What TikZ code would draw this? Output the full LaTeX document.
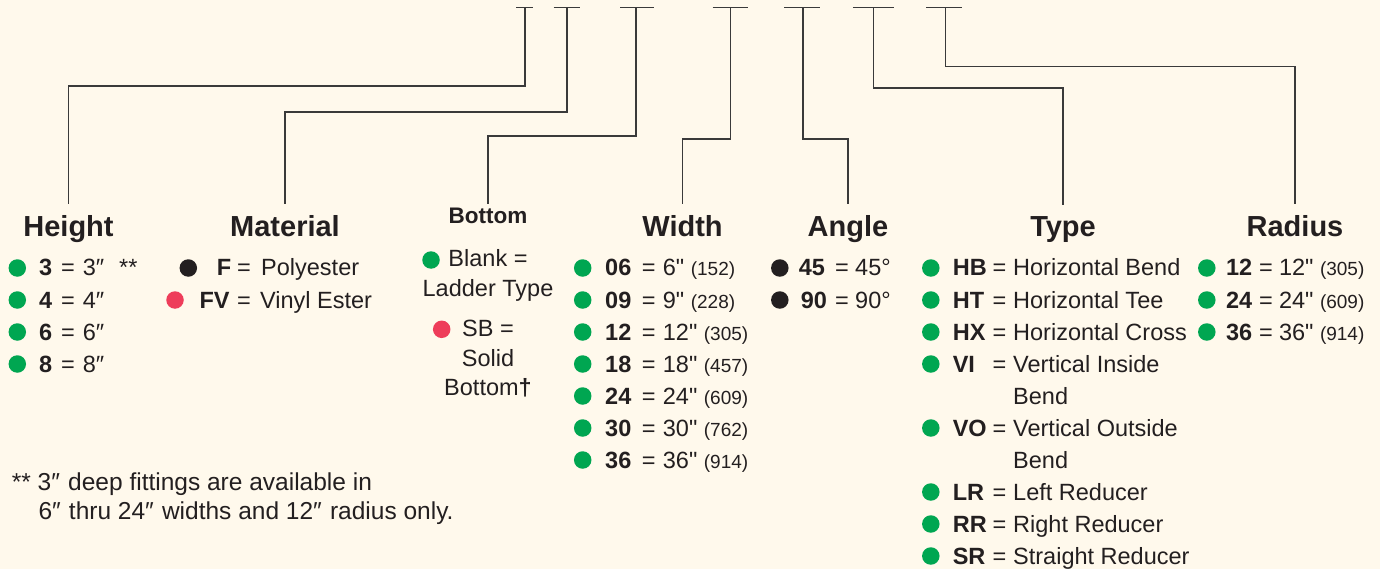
\documentclass[tikz,border=0pt]{standalone}
\usepackage{fontspec}
\setmainfont{Liberation Sans}[Ligatures=TeXOff]
\definecolor{bgcream}{HTML}{FFF9EC}
\definecolor{ink}{HTML}{231F20}
\definecolor{linegray}{HTML}{3A3A3A}
\definecolor{dotgreen}{HTML}{00A651}
\definecolor{dotred}{HTML}{EE3D5A}
\definecolor{dotblack}{HTML}{231F20}
\begin{document}
\begin{tikzpicture}[x=1pt,y=-1pt,
  conn/.style={draw=linegray,line width=1.2pt},
  head/.style={font=\fontsize{29}{29}\selectfont\bfseries,text=ink,anchor=base,inner sep=0pt,outer ysep=12pt},
  subhead/.style={font=\fontsize{22.5}{22.5}\selectfont\bfseries,text=ink,anchor=base,inner sep=0pt,outer ysep=3.5pt},
  txt/.style={font=\fontsize{23.5}{23.5}\selectfont,text=ink,anchor=base west,inner sep=0pt},
  ctxt/.style={font=\fontsize{23.5}{23.5}\selectfont,text=ink,anchor=base,inner sep=0pt},
  code/.style={font=\fontsize{23.5}{23.5}\selectfont\bfseries,text=ink,anchor=base west,inner sep=0pt},
  note/.style={font=\fontsize{24.5}{24.5}\selectfont,text=ink,anchor=base west,inner sep=0pt},
  dotg/.style={circle,fill=dotgreen,minimum size=17.5pt,inner sep=0pt},
  dotr/.style={circle,fill=dotred,minimum size=17.5pt,inner sep=0pt},
  dotk/.style={circle,fill=dotblack,minimum size=17.5pt,inner sep=0pt}
]
\newcommand\smallpar{\fontsize{19}{19}\selectfont}
\path[use as bounding box,fill=bgcream] (0,0) rectangle (1380,569);

% top T-bars
\coordinate (t1) at (525,7.5);
\coordinate (t2) at (567,7.5);
\coordinate (t3) at (636,7.5);
\coordinate (t4) at (730.7,7.5);
\coordinate (t5) at (803,7.5);
\coordinate (t6) at (873.5,7.5);
\coordinate (t7) at (945.8,7.5);
\draw[conn] ([xshift=-9pt]t1) -- ([xshift=8pt]t1);
\draw[conn] ([xshift=-13.5pt]t2) -- ([xshift=13pt]t2);
\draw[conn] ([xshift=-16pt]t3) -- ([xshift=17.5pt]t3);
\draw[conn] ([xshift=-18pt]t4) -- ([xshift=17.5pt]t4);
\draw[conn] ([xshift=-18.6pt]t5) -- ([xshift=16.5pt]t5);
\draw[conn] ([xshift=-20.7pt]t6) -- ([xshift=20.5pt]t6);
\draw[conn] ([xshift=-19.8pt]t7) -- ([xshift=16.5pt]t7);

% headings
\node[head] (hheight) at (68.5,236.7) {Height};
\node[head] (hmat) at (285,236.7) {Material};
\node[subhead] (hbot) at (488,223.3) {Bottom};
\node[head] (hwidth) at (682.5,236.7) {Width};
\node[head] (hangle) at (848,236.7) {Angle};
\node[head] (htype) at (1063,236.7) {Type};
\node[head] (hrad) at (1295,236.7) {Radius};

% connectors
\draw[conn] (t1) -- ++(0,78.5) -| (hheight.north);
\draw[conn] (t2) -- ++(0,104.5) -| (hmat.north);
\draw[conn] (t3) -- ++(0,128.5) -| (hbot.north);
\draw[conn] (t4) -- ++(0,131.5) -| (hwidth.north);
\draw[conn] (t5) -- ++(0,131.5) -| (hangle.north);
\draw[conn] (t6) -- ++(0,80.5) -| (htype.north);
\draw[conn] (t7) -- ++(0,59) -| (hrad.north);

% Height
\foreach \c [count=\i from 0] in {3,4,6,8}{
  \node[dotg] (hd\i) at (17.3,{268+32*\i}) {};
  \node[code] (hc\i) at (39,{276+32*\i}) {\c};
  \node[txt] (he\i) at (61,{276+32*\i}) {=};
  \node[txt] (hv\i) at (82.7,{276+32*\i}) {\c″};
}
\node[txt] (hstar) at (119,276) {**};

% Material
\node[dotk] (md0) at (188.3,268) {};
\node[code] (mc0) at (216.7,276) {F};
\node[txt] (me0) at (237,276) {=};
\node[txt] (mv0) at (261,276) {Polyester};
\node[dotr] (md1) at (175,300) {};
\node[code] (mc1) at (199.3,308) {FV};
\node[txt] (me1) at (237,308) {=};
\node[txt] (mv1) at (260,308) {Vinyl Ester};

% Bottom
\node[dotg] (bd0) at (431,260) {};
\node[ctxt] (bt0) at (488,266.7) {Blank =};
\node[ctxt] (bt1) at (488,296.7) {Ladder Type};
\node[dotr] (bd1) at (441.7,329.3) {};
\node[ctxt] (bt2) at (488,336.7) {SB =};
\node[ctxt] (bt3) at (488,366.7) {Solid};
\node[ctxt] (bt4) at (488,395) {Bottom\textbf{†}};

% Width
\foreach \c/\v/\p [count=\i from 0] in {06/6/152,09/9/228,12/12/305,18/18/457,24/24/609,30/30/762,36/36/914}{
  \node[dotg] (wd\i) at (582.7,{268+32*\i}) {};
  \node[code] (wc\i) at (605,{276+32*\i}) {\c};
  \node[txt] (we\i) at (641.7,{276+32*\i}) {=};
  \node[txt] (wv\i) at (662.7,{276+32*\i}) {\v" {\smallpar(\p)}};
}

% Angle
\foreach \c/\x [count=\i from 0] in {45/798.7,90/800.7}{
  \node[dotk] (ad\i) at (779.8,{268+32*\i}) {};
  \node[code] (ac\i) at (\x,{276+32*\i}) {\c};
  \node[txt] (ae\i) at (835,{276+32*\i}) {=};
  \node[txt] (av\i) at (855,{276+32*\i}) {\c°};
}

% Type
\foreach \r/\c/\d in {0/HB/Horizontal Bend,1/HT/Horizontal Tee,2/HX/Horizontal Cross,3/VI/Vertical Inside,5/VO/Vertical Outside,7/LR/Left Reducer,8/RR/Right Reducer,9/SR/Straight Reducer}{
  \node[dotg] (td\r) at (930.8,{268+32*\r}) {};
  \node[code] (tc\r) at (952.6,{276+32*\r}) {\c};
  \node[txt] (te\r) at (992.5,{276+32*\r}) {=};
  \node[txt] (tv\r) at (1013,{276+32*\r}) {\d};
}
\node[txt] (tv4) at (1013,{276+32*4}) {Bend};
\node[txt] (tv6) at (1013,{276+32*6}) {Bend};

% Radius
\foreach \c/\p [count=\i from 0] in {12/305,24/609,36/914}{
  \node[dotg] (rd\i) at (1206.8,{268+32*\i}) {};
  \node[code] (rc\i) at (1225.8,{276+32*\i}) {\c};
  \node[txt] (re\i) at (1259,{276+32*\i}) {=};
  \node[txt] (rv\i) at (1278.8,{276+32*\i}) {\c" {\smallpar(\p)}};
}

% footnote
\node[note] (fn1) at (11.7,490.7) {** 3″\,\,deep fittings are available in};
\node[note] (fn2) at (38.3,519.3) {6″\,\,thru 24″\,\,widths and 12″\,\,radius only.};
\end{tikzpicture}
\end{document}
